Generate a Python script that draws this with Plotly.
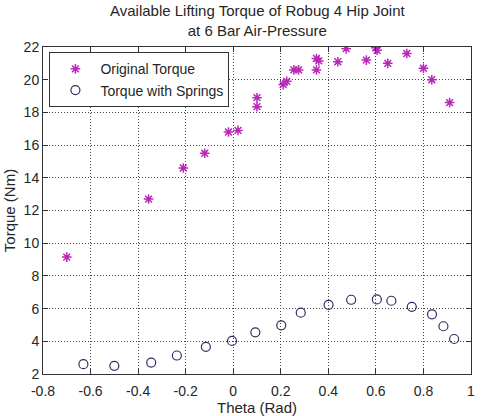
import plotly.graph_objects as go

orig_theta = [-0.70, -0.356, -0.21, -0.12, -0.02, 0.02, 0.10, 0.10, 0.21, 0.225, 0.255, 0.275,
              0.35, 0.36, 0.35, 0.44, 0.475, 0.56, 0.60, 0.605, 0.65, 0.73, 0.80, 0.835, 0.91]
orig_torque = [9.15, 12.7, 14.6, 15.5, 16.8, 16.9, 18.9, 18.35, 19.7, 19.9, 20.6, 20.6,
               21.3, 21.15, 20.6, 21.1, 21.9, 21.2, 21.95, 21.8, 21.0, 21.6, 20.7, 20.0, 18.6]

spring_theta = [-0.63, -0.50, -0.345, -0.237, -0.115, -0.005, 0.093, 0.202, 0.284, 0.401,
                0.496, 0.604, 0.665, 0.751, 0.836, 0.884, 0.929]
spring_torque = [2.6, 2.5, 2.7, 3.13, 3.66, 4.02, 4.55, 4.98, 5.75, 6.23,
                 6.54, 6.56, 6.48, 6.11, 5.65, 4.92, 4.14]

x_ticks = [-0.8, -0.6, -0.4, -0.2, 0, 0.2, 0.4, 0.6, 0.8, 1]
x_labels = ["-0.8", "-0.6", "-0.4", "-0.2", "0", "0.2", "0.4", "0.6", "0.8", "1"]
y_ticks = [2, 4, 6, 8, 10, 12, 14, 16, 18, 20, 22]

title_lines = ["Available Lifting Torque of Robug 4 Hip Joint", "at 6 Bar Air-Pressure"]

FONT = "Liberation Sans, Arial, sans-serif"
TXT = "#262626"

fig = go.Figure()
fig.add_trace(go.Scatter(
    x=orig_theta, y=orig_torque, mode="markers", name="Original Torque",
    marker=dict(symbol="asterisk-open", size=8, color="#b828b8",
                line=dict(color="#b828b8", width=1.5)),
))
fig.add_trace(go.Scatter(
    x=spring_theta, y=spring_torque, mode="markers", name="Torque with Springs",
    marker=dict(symbol="circle-open", size=9, color="#2e2e66",
                line=dict(color="#2e2e66", width=1.2)),
))

axis_common = dict(
    showline=True, linecolor="#333333", linewidth=1, mirror="ticks",
    ticks="inside", ticklen=5, tickcolor="#333333",
    showgrid=True, gridcolor="#444444", gridwidth=1, griddash="1px,2px",
    zeroline=False, tickfont=dict(family=FONT, size=14, color=TXT),
)

H = 416
PLOT_TOP = 47
PLOT_H = H - PLOT_TOP - 40

fig.update_layout(
    width=482, height=416,
    margin=dict(l=43, r=7, t=PLOT_TOP, b=40),
    paper_bgcolor="white", plot_bgcolor="white",
    font=dict(family=FONT, size=12, color=TXT),
    annotations=[dict(
        text="<br>".join(title_lines), xref="paper", yref="paper", x=0.5, xanchor="center",
        y=1 + 6 / PLOT_H, yanchor="bottom", showarrow=False,
        font=dict(family=FONT, size=15, color=TXT),
    )],
    xaxis=dict(range=[-0.8, 1], tickvals=x_ticks, ticktext=x_labels, ticklabelstandoff=4,
               title=dict(text="Theta (Rad)", standoff=0, font=dict(family=FONT, size=15, color=TXT)),
               **axis_common),
    yaxis=dict(range=[2, 22], tickvals=y_ticks,
               title=dict(text="Torque (Nm)", standoff=4, font=dict(family=FONT, size=15, color=TXT)),
               **axis_common),
    legend=dict(x=0.015, y=0.984, xanchor="left", yanchor="top",
                bgcolor="white", bordercolor="#333333", borderwidth=1, itemwidth=40,
                font=dict(family=FONT, size=14, color=TXT), tracegroupgap=0),
    showlegend=True,
)

fig.write_html("out.html")
